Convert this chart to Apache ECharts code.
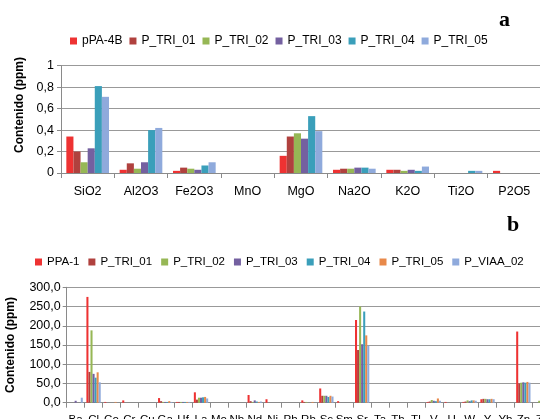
<!DOCTYPE html>
<html><head><meta charset="utf-8">
<script src="https://cdn.jsdelivr.net/npm/echarts@6/dist/echarts.min.js"></script>
<style>html,body{margin:0;padding:0;background:#fff;overflow:hidden;width:540px;height:419px}
#a{position:absolute;left:0;top:0;width:620px;height:200px}
#b{position:absolute;left:0;top:200px;width:620px;height:219px}</style>
</head><body><div id="a"></div><div id="b"></div>
<script>
// Chart a: oxides
const catsA = ['SiO2','Al2O3','Fe2O3','MnO','MgO','Na2O','K2O','Ti2O','P2O5'];
const namesA = ['pPA-4B','P_TRI_01','P_TRI_02','P_TRI_03','P_TRI_04','P_TRI_05'];
const pPA4B   = [0.34,0.03,0.02,0,0.16,0.03,0.03,0,0.02];
const a_TRI01 = [0.20,0.09,0.05,0,0.34,0.04,0.03,0,0];
const a_TRI02 = [0.10,0.04,0.04,0,0.37,0.04,0.02,0,0];
const a_TRI03 = [0.23,0.10,0.03,0,0.32,0.05,0.03,0,0];
const a_TRI04 = [0.81,0.40,0.07,0,0.53,0.05,0.02,0.02,0];
const a_TRI05 = [0.71,0.42,0.10,0,0.39,0.04,0.06,0.02,0];
const yTicksA = [0,0.2,0.4,0.6,0.8,1];

// Chart b: trace elements
const catsB = ['Ba','Cl','Co','Cr','Cu','Ga','Hf','La','Mo','Nb','Nd','Ni','Pb','Rb','Sc','Sm','Sr','Ta','Th','Tl','V','U','W','Y','Yb','Zn','Zr'];
const namesB = ['PPA-1','P_TRI_01','P_TRI_02','P_TRI_03','P_TRI_04','P_TRI_05','P_VIAA_02'];
const PPA1    = [0,275,2,6,0,12,2,27,0,0,20,9,0,6,37,4,215,0,0,0,2,2,2,9,0,185,0];
const b_TRI01 = [0,80,0,0,0,4,2,8,0,0,4,0,0,2,18,0,137,0,0,0,3,0,3,10,0,50,0];
const b_TRI02 = [0,188,0,0,0,2,2,13,0,0,2,0,0,2,18,0,250,0,0,0,7,0,6,10,0,52,5];
const b_TRI03 = [5,75,0,0,0,2,2,13,0,0,6,0,0,0,18,0,152,0,0,0,5,0,4,9,0,53,0];
const b_TRI04 = [0,65,0,0,0,2,2,14,0,0,3,0,0,0,15,0,237,0,0,0,4,0,6,9,0,52,0];
const b_TRI05 = [0,79,2,0,0,4,2,15,0,0,2,0,0,2,18,0,175,0,0,0,11,0,6,10,0,54,0];
const VIAA02  = [13,53,0,0,0,2,2,11,0,0,3,0,0,0,16,0,148,0,0,0,5,0,5,9,0,52,0];
const yTicksB = [0,50,100,150,200,250,300];

const colA = ['#EE3232','#B0413E','#96B755','#7460A0','#3A9FBA','#8FAADC'];
const colB = ['#EE3232','#B0413E','#96B755','#7460A0','#3A9FBA','#E8894A','#8FAADC'];
const FONT = 'Liberation Sans';

function mk(el, o){
  const c = echarts.init(document.getElementById(el), null, {renderer:'canvas'});
  c.setOption(o);
}
function series(names, arrs, cols){
  return names.map((n,i)=>({name:n,type:'bar',data:arrs[i],barGap:'0%',barCategoryGap:'20%',
    itemStyle:{color:cols[i]},animation:false}));
}
const axisGrey = '#8a8a8a';

mk('a', {
  animation:false,
  color: colA,
  graphic:[
    {type:'text',left:499,top:9,style:{text:'a',font:'bold 22px "Liberation Serif"',fill:'#000'}},
    {type:'text',x:20,y:105,rotation:Math.PI/2,
      style:{text:'Contenido (ppm)',font:'bold 12px "Liberation Sans"',fill:'#000',
        textAlign:'center',textVerticalAlign:'middle'}}
  ],
  legend:{top:30,left:65,width:540,itemWidth:7,itemHeight:7,itemGap:7,icon:'rect',
    textStyle:{fontFamily:FONT,fontSize:12,color:'#000'},data:namesA},
  grid:{left:61,top:65.7,width:480,height:107.3,outerBoundsMode:'none',containLabel:false},
  xAxis:{type:'category',data:catsA,
    axisLine:{lineStyle:{color:axisGrey}},
    axisTick:{show:true,length:5,lineStyle:{color:axisGrey}},
    axisLabel:{fontFamily:FONT,fontSize:12.5,color:'#000',margin:12,interval:0}},
  yAxis:{type:'value',min:yTicksA[0],max:yTicksA[yTicksA.length-1],interval:0.2,
    axisLine:{show:true,lineStyle:{color:axisGrey}},
    axisTick:{show:true,length:4,lineStyle:{color:axisGrey}},
    splitLine:{lineStyle:{color:'#999',width:1.2}},
    axisLabel:{fontFamily:FONT,fontSize:12.5,color:'#000',margin:7,
      formatter:v=>String(Math.round(v*10)/10).replace('.',',')}},
  series: series(namesA,[pPA4B,a_TRI01,a_TRI02,a_TRI03,a_TRI04,a_TRI05],colA)
});

mk('b', {
  animation:false,
  color: colB,
  graphic:[{type:'text',left:507,top:14,style:{text:'b',font:'bold 22px "Liberation Serif"',fill:'#000'}}],
  legend:{top:51,left:30,width:600,itemWidth:7,itemHeight:7,itemGap:9,icon:'rect',
    textStyle:{fontFamily:FONT,fontSize:11.5,color:'#000'},data:namesB},
  grid:{left:66.7,top:87.3,width:483.5,height:115.4,outerBoundsMode:'none',containLabel:false},
  xAxis:{type:'category',data:catsB,
    axisLine:{lineStyle:{color:axisGrey}},
    axisTick:{show:true,length:5,lineStyle:{color:axisGrey}},
    axisLabel:{fontFamily:FONT,fontSize:11.5,color:'#000',margin:11,interval:0}},
  yAxis:{type:'value',min:yTicksB[0],max:yTicksB[yTicksB.length-1],interval:50,
    name:'Contenido (ppm)',nameLocation:'middle',nameGap:50,nameRotate:90,
    nameTextStyle:{fontFamily:FONT,fontSize:12,fontWeight:'bold',color:'#000'},
    axisLine:{show:true,lineStyle:{color:axisGrey}},
    axisTick:{show:true,length:4,lineStyle:{color:axisGrey}},
    splitLine:{lineStyle:{color:'#999',width:1.2}},
    axisLabel:{fontFamily:FONT,fontSize:12.5,color:'#000',margin:6,
      formatter:v=>v.toFixed(1).replace('.',',')}},
  series: series(namesB,[PPA1,b_TRI01,b_TRI02,b_TRI03,b_TRI04,b_TRI05,VIAA02],colB)
});
</script></body></html>
